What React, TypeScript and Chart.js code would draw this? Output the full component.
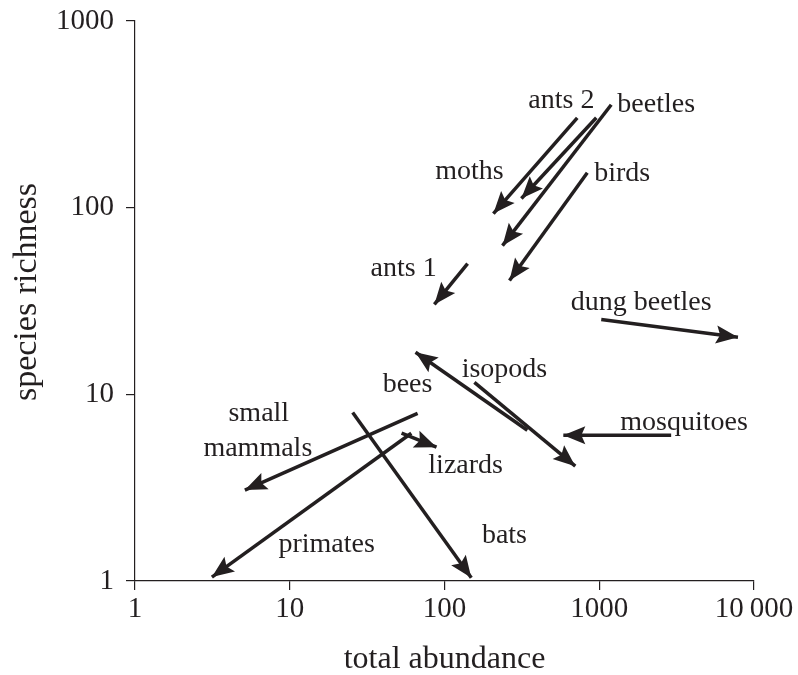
import React, { useEffect, useRef } from "react";
import { Chart, registerables } from "chart.js";

Chart.register(...registerables);

// ---- data ----
const species = [
  "ants 2", "moths", "beetles", "birds", "ants 1", "dung beetles",
  "isopods", "bees", "mosquitoes", "small mammals", "lizards", "bats", "primates",
];
const startAbundance = [721, 957, 1195, 837, 141, 1030, 156, 343, 2915, 67, 52.8, 25.5, 61];
const startRichness = [303, 303, 356, 154, 50.2, 25.2, 11.6, 6.42, 6.04, 7.91, 6.19, 8.0, 6.19];
const endAbundance = [207, 314, 237, 263, 86, 7880, 700, 65, 586, 5.13, 88.8, 149, 3.14];
const endRichness = [93, 112, 62.6, 40.7, 30.3, 20.2, 4.12, 16.8, 6.04, 3.07, 5.21, 1.04, 1.05];

// label annotations (text + anchor in data coordinates)
const labelText = [
  "ants 2", "beetles", "moths", "birds", "ants 1", "dung beetles", "isopods",
  "bees", "mosquitoes", "small", "mammals", "lizards", "bats", "primates",
];
const labelAbundance = [569, 2333, 145, 1407, 54.4, 1866, 244, 57.7, 3535, 6.31, 6.22, 137, 244, 17.3];
const labelRichness = [373, 356, 156, 152, 47.2, 31.0, 13.6, 11.3, 7.08, 7.91, 5.14, 4.17, 1.76, 1.56];

const xTicks = [1, 10, 100, 1000, 10000];
const yTicks = [1, 10, 100, 1000];
const xTitle = "total abundance";
const yTitle = "species richness";

const INK = "#231f20";
const FONT = "'Liberation Serif', 'Times New Roman', serif";

const arrowPlugin = {
  id: "arrowsAndLabels",
  afterDatasetsDraw(chart: any) {
    const ctx = chart.ctx;
    ctx.save();
    chart.data.datasets.forEach((_ds: any, i: number) => {
      const meta = chart.getDatasetMeta(i);
      const pts = meta.data;
      if (pts.length < 2) return;
      const a = pts[pts.length - 2];
      const b = pts[pts.length - 1];
      const ang = Math.atan2(b.y - a.y, b.x - a.x);
      const L = 22, W = 9, N = 4;
      ctx.save();
      ctx.translate(b.x, b.y);
      ctx.rotate(ang);
      ctx.beginPath();
      ctx.moveTo(0, 0);
      ctx.lineTo(-L, -W);
      ctx.lineTo(-L + N, 0);
      ctx.lineTo(-L, W);
      ctx.closePath();
      ctx.fillStyle = INK;
      ctx.fill();
      ctx.restore();
    });
    const xs = chart.scales.x, ys = chart.scales.y;
    ctx.fillStyle = INK;
    ctx.font = `28px ${FONT}`;
    ctx.textAlign = "center";
    ctx.textBaseline = "middle";
    labelText.forEach((t, i) => {
      ctx.fillText(t, xs.getPixelForValue(labelAbundance[i]), ys.getPixelForValue(labelRichness[i]));
    });
    // y-axis title
    const ca = chart.chartArea;
    ctx.font = `34px ${FONT}`;
    ctx.translate(27, (ca.top + ca.bottom) / 2 - 9);
    ctx.rotate(-Math.PI / 2);
    ctx.fillText(yTitle, 0, 0);
    ctx.restore();
  },
};

export default function App() {
  const ref = useRef<HTMLCanvasElement>(null);
  useEffect(() => {
    document.body.style.margin = "0";
    const datasets = species.map((s, i) => ({
      label: s,
      data: [
        { x: startAbundance[i], y: startRichness[i] },
        { x: endAbundance[i], y: endRichness[i] },
      ],
      showLine: true,
      borderColor: INK,
      backgroundColor: INK,
      borderWidth: 3.5,
      pointRadius: 0,
      borderCapStyle: "butt",
    }));
    const chart = new Chart(ref.current!, {
      type: "scatter",
      data: { datasets },
      plugins: [arrowPlugin],
      options: {
        animation: false,
        responsive: false,
        devicePixelRatio: 1,
        layout: { padding: { top: 21, right: 44, left: 0, bottom: 0 } },
        plugins: { legend: { display: false }, tooltip: { enabled: false } },
        scales: {
          x: {
            type: "logarithmic",
            min: 1,
            max: 10000,
            afterBuildTicks: (sc: any) => { sc.ticks = xTicks.map((v) => ({ value: v })); },
            afterFit: (sc: any) => { sc.height = 94; },
            ticks: {
              autoSkip: false,
              maxRotation: 0,
              color: INK,
              padding: 2,
              font: { family: FONT, size: 29 },
              callback: (v: any) => (Number(v) === 10000 ? "10\u2009000" : String(v)),
            },
            grid: { drawOnChartArea: false, drawTicks: true, tickLength: 9, color: INK, lineWidth: 1.2 },
            border: { display: true, color: INK, width: 1.2 },
            title: {
              display: true,
              text: xTitle,
              color: INK,
              font: { family: FONT, size: 32, lineHeight: 1 },
              padding: { top: 0, bottom: -1 },
            },
          },
          y: {
            type: "logarithmic",
            min: 1,
            max: 1000,
            afterBuildTicks: (sc: any) => { sc.ticks = yTicks.map((v) => ({ value: v })); },
            afterFit: (sc: any) => { sc.width = 135; sc.paddingTop = 8; sc.paddingBottom = 8; },
            ticks: {
              autoSkip: false,
              color: INK,
              padding: 12,
              font: { family: FONT, size: 29 },
              callback: (v: any) => String(v),
            },
            grid: { drawOnChartArea: false, drawTicks: true, tickLength: 9, color: INK, lineWidth: 1.2 },
            border: { display: true, color: INK, width: 1.2 },
            title: { display: false },
          },
        },
      },
    } as any);
    return () => chart.destroy();
  }, []);
  return (
    <div style={{ width: 798, height: 675 }}>
      <canvas ref={ref} width={798} height={675} />
    </div>
  );
}
